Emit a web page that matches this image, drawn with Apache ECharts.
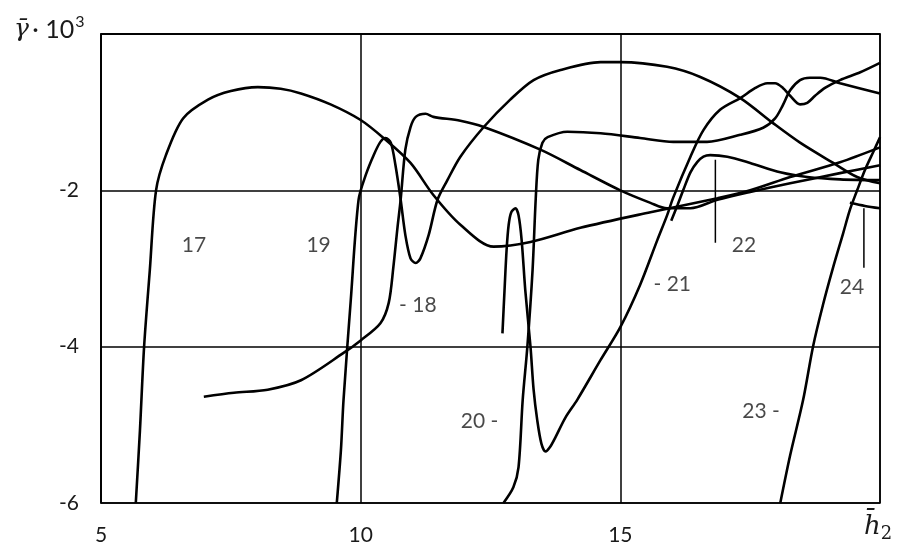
<!DOCTYPE html>
<html>
<head>
<meta charset="utf-8">
<script src="https://cdn.jsdelivr.net/npm/echarts@6/dist/echarts.min.js"></script>
<style>
html,body{margin:0;padding:0;background:#fff;}
#chart{width:903px;height:549px;}
</style>
</head>
<body>
<div id="chart"></div>
<script>
// ---- data (x = h2, y = gamma*10^3) ----
const curve17 = [[5.67,-6],[5.75,-5.07],[5.83,-4.0],[5.94,-3.02],[6.06,-2.0],[6.25,-1.55],[6.58,-1.08],[7.06,-0.84],[7.5,-0.73],[8.02,-0.68],[8.46,-0.70],[8.85,-0.76],[9.42,-0.9],[10,-1.1],[10.44,-1.33],[10.96,-1.65],[11.4,-2.06],[11.92,-2.44],[12.56,-2.72],[13.27,-2.66],[14.23,-2.48],[15.58,-2.28],[16.87,-2.1],[17.5,-2.0],[18.27,-1.83],[19.23,-1.64],[20,-1.45]];
const curve18 = [[6.98,-4.64],[7.56,-4.59],[8.21,-4.55],[8.85,-4.43],[9.67,-4.08],[10.0,-3.92],[10.38,-3.70],[10.54,-3.44],[10.63,-2.98],[10.71,-2.47],[10.77,-2.12],[10.86,-1.48],[10.96,-1.19],[11.06,-1.06],[11.25,-1.02],[11.4,-1.06],[11.92,-1.11],[12.37,-1.19],[13.46,-1.48],[14.23,-1.74],[15.0,-2.0],[15.58,-2.16],[15.9,-2.23],[16.35,-2.23],[16.87,-2.12],[17.5,-2.02],[18.27,-1.91],[19.23,-1.78],[20,-1.68]];
const curve19 = [[9.54,-6],[9.62,-5.32],[9.67,-4.68],[9.81,-3.40],[9.96,-2.12],[10.1,-1.8],[10.25,-1.55],[10.38,-1.38],[10.48,-1.33],[10.58,-1.39],[10.67,-1.68],[10.77,-2.12],[10.86,-2.57],[10.96,-2.87],[11.06,-2.93],[11.15,-2.87],[11.31,-2.57],[11.48,-2.12],[11.67,-1.87],[11.92,-1.57],[12.37,-1.19],[12.88,-0.84],[13.33,-0.59],[13.85,-0.46],[14.62,-0.36],[15.0,-0.36],[15.9,-0.42],[16.54,-0.55],[17.31,-0.82],[17.94,-1.14],[18.46,-1.39],[19.1,-1.65],[19.56,-1.83],[20,-1.91]];
const curve20 = [[12.75,-6],[12.94,-5.8],[13.04,-5.54],[13.12,-4.68],[13.21,-4.0],[13.31,-3.02],[13.37,-2.12],[13.42,-1.61],[13.5,-1.39],[13.6,-1.32],[13.98,-1.25],[14.62,-1.27],[15.38,-1.33],[16.02,-1.38],[16.67,-1.38],[17.31,-1.29],[17.75,-1.2],[17.98,-1.08],[18.13,-0.91],[18.27,-0.72],[18.46,-0.59],[18.65,-0.56],[18.85,-0.56],[19.23,-0.63],[20,-0.76]];
const curve21 = [[12.73,-3.83],[12.77,-3.28],[12.81,-2.76],[12.85,-2.44],[12.9,-2.28],[12.98,-2.23],[13.04,-2.32],[13.1,-2.64],[13.17,-3.28],[13.27,-4.0],[13.33,-4.55],[13.4,-4.94],[13.48,-5.24],[13.56,-5.34],[13.65,-5.28],[13.75,-5.16],[13.94,-4.91],[14.17,-4.68],[14.62,-4.17],[15.0,-3.75],[15.38,-3.21],[15.71,-2.64],[15.9,-2.32],[16.02,-2.09],[16.35,-1.57],[16.6,-1.23],[16.92,-0.97],[17.31,-0.82],[17.6,-0.69],[17.83,-0.63],[17.98,-0.63],[18.13,-0.69],[18.27,-0.79],[18.46,-0.9],[18.6,-0.88],[18.75,-0.79],[18.94,-0.69],[19.23,-0.59],[19.62,-0.49],[20,-0.37]];
const curve22 = [[15.98,-2.39],[16.1,-2.19],[16.21,-2.0],[16.35,-1.77],[16.48,-1.64],[16.6,-1.57],[16.73,-1.55],[17.06,-1.57],[17.5,-1.65],[18.08,-1.77],[18.6,-1.83],[19.23,-1.86],[20,-1.87]];
const curve23 = [[18.08,-6],[18.27,-5.39],[18.52,-4.68],[18.71,-4.0],[18.9,-3.47],[19.1,-2.98],[19.29,-2.55],[19.42,-2.25],[19.56,-2.0],[19.71,-1.74],[19.87,-1.51],[20,-1.32]];
const curve24 = [[19.42,-2.16],[19.71,-2.2],[20,-2.23]];
const pointer22 = [[16.83,-1.61],[16.83,-2.67]];
const pointer24 = [[19.69,-2.23],[19.69,-2.99]];

const labelTexts = ['17','19','- 18','20 -','- 21','22','24','23 -'];
const labelX = [6.79, 9.19, 11.1, 12.29, 16.0, 17.38, 19.46, 17.71];
const labelY = [-2.70, -2.70, -3.47, -4.96, -3.20, -2.70, -3.24, -4.82];

const xTicks = [5, 10, 15, 20];
const yTicks = [-6, -4, -2, 0];

// ---- chart ----
const chart = echarts.init(document.getElementById('chart'), null, {renderer: 'canvas'});
const curveStyle = {color: '#000', width: 2.6};
function curve(data) {
  return {type: 'line', data: data, smooth: 0.3, showSymbol: false, symbol: 'none',
          lineStyle: curveStyle, itemStyle: {color: '#000'}, z: 3, silent: true};
}
const labelData = labelTexts.map((t, i) => [labelX[i], labelY[i], t]);
const txt = '#1a1a1a';

chart.setOption({
  animation: false,
  backgroundColor: '#fff',
  grid: {left: 101, right: 23, top: 34, bottom: 46, show: true, borderColor: '#000', borderWidth: 1.5, backgroundColor: 'transparent'},
  xAxis: {
    type: 'value', min: xTicks[0], max: xTicks[xTicks.length - 1], interval: 5,
    axisLine: {show: true, lineStyle: {color: '#000', width: 1.5}},
    axisTick: {show: false},
    splitLine: {show: true, lineStyle: {color: '#000', width: 1.5}},
    axisLabel: {margin: 22, color: txt, fontSize: 21, fontFamily: 'Lato',
      formatter: v => (v === xTicks[xTicks.length - 1] ? '' : String(v))}
  },
  yAxis: {
    type: 'value', min: yTicks[0], max: yTicks[yTicks.length - 1], interval: 2,
    axisLine: {show: true, lineStyle: {color: '#000', width: 1.5}},
    axisTick: {show: false},
    splitLine: {show: true, lineStyle: {color: '#000', width: 1.5}},
    axisLabel: {margin: 22, color: txt, fontSize: 21, fontFamily: 'Lato',
      formatter: v => (v === yTicks[yTicks.length - 1] ? '' : String(v))}
  },
  graphic: [
    {type: 'text', left: 14, top: 14, style: {
      text: '{g|\u03B3\u0304} {n|\u00B7 10}{s|3}',
      rich: {
        g: {fontSize: 25, fontFamily: 'DejaVu Serif', fontStyle: 'italic', fill: txt, verticalAlign: 'bottom'},
        n: {fontSize: 25, fontFamily: 'Lato', fill: txt, verticalAlign: 'bottom'},
        s: {fontSize: 16, fontFamily: 'Lato', fill: txt, verticalAlign: 'top', padding: [0, 0, 12, 1]}
      }}},
    {type: 'text', left: 864, top: 514, style: {
      text: '{h|h\u0304}{s|2}',
      rich: {
        h: {fontSize: 26, fontFamily: 'DejaVu Serif', fontStyle: 'italic', fill: txt},
        s: {fontSize: 18, fontFamily: 'DejaVu Serif', fill: txt, padding: [14, 0, 0, 0]}
      }}}
  ],
  series: [
    curve(curve17), curve(curve18), curve(curve19), curve(curve20),
    curve(curve21), curve(curve22), curve(curve23), curve(curve24),
    {type: 'line', data: pointer22, showSymbol: false, symbol: 'none', lineStyle: {color: '#000', width: 1.5}, silent: true},
    {type: 'line', data: pointer24, showSymbol: false, symbol: 'none', lineStyle: {color: '#000', width: 1.5}, silent: true},
    {type: 'scatter', data: labelData, symbolSize: 0, silent: true,
     label: {show: true, position: 'inside', formatter: p => p.data[2], color: txt, fontSize: 21, fontFamily: 'Lato'}}
  ]
});
</script>
</body>
</html>
